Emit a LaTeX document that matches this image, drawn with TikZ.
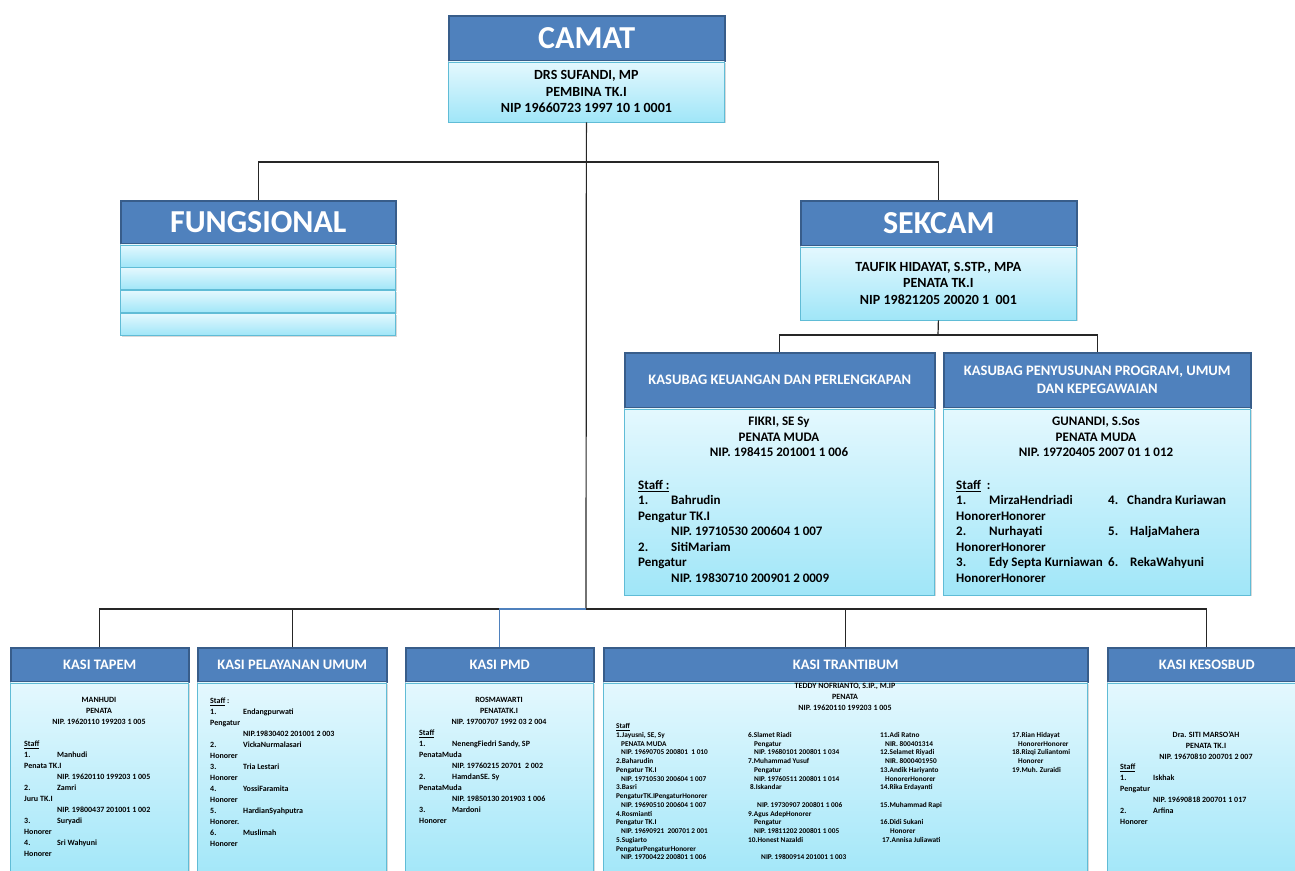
\documentclass[tikz,border=0pt]{standalone}
\usepackage{fontspec}
\setmainfont{Carlito}
\usetikzlibrary{shadows}

\definecolor{headblue}{RGB}{79,129,189}
\definecolor{headedge}{RGB}{56,93,138}
\definecolor{bodytop}{RGB}{228,248,254}
\definecolor{bodybot}{RGB}{160,230,248}
\definecolor{bodyedge}{RGB}{96,188,214}

\newcommand{\staffno}[1]{\makebox[33pt][l]{#1}}
\newcommand{\nipin}{\hspace*{33pt}}

\begin{document}
\begin{tikzpicture}[x=1pt,y=-1pt,
    headbox/.style={draw=headedge, line width=1.5pt, fill=headblue, text=white, anchor=north west, inner sep=0pt},
    bodybox/.style={draw=bodyedge, line width=0.8pt, top color=bodytop, bottom color=bodybot, anchor=north west, inner sep=0pt,
        drop shadow={shadow xshift=1.5pt, shadow yshift=-1.5pt, opacity=0.3}},
    bigtitle/.style={font=\fontsize{32}{36}\selectfont\bfseries},
    subtitle/.style={font=\fontsize{14.5}{18}\selectfont\bfseries},
    toptext/.style={font=\fontsize{14}{16.5}\selectfont\bfseries},
    midtext/.style={font=\fontsize{13}{15.5}\selectfont\bfseries, inner sep=0pt},
    smalltext/.style={font=\fontsize{8}{11}\selectfont\bfseries, inner sep=0pt},
    tinytext/.style={font=\fontsize{7.3}{8.75}\selectfont\bfseries, inner sep=0pt, align=left, anchor=north west},
    conn/.style={line width=1.2pt, draw=black!85}
]
    \useasboundingbox (0,0) rectangle (1295,870);

    % Camat
    \node[headbox, bigtitle, minimum width=276, minimum height=45] (camat) at (448,15) {CAMAT};
    \node[bodybox, toptext, align=center, minimum width=276, minimum height=60] (camatbody) at (camat.south west)
        {DRS SUFANDI, MP\\PEMBINA TK.I\\NIP 19660723 1997 10 1 0001};

    % Fungsional
    \node[headbox, bigtitle, minimum width=275, minimum height=43] (fung) at (120,200) {FUNGSIONAL};
    \node[bodybox, minimum width=275, minimum height=22] (fungrowa) at (fung.south west) {};
    \node[bodybox, minimum width=275, minimum height=22] (fungrowb) at (fungrowa.south west) {};
    \node[bodybox, minimum width=275, minimum height=22] (fungrowc) at (fungrowb.south west) {};
    \node[bodybox, minimum width=275, minimum height=22] (fungrowd) at (fungrowc.south west) {};

    % Sekcam
    \node[headbox, bigtitle, minimum width=276, minimum height=45] (sekcam) at (800,200) {SEKCAM};
    \node[bodybox, toptext, align=center, minimum width=276, minimum height=73] (sekcambody) at (sekcam.south west)
        {TAUFIK HIDAYAT, S.STP., MPA\\PENATA TK.I\\NIP 19821205 20020 1\ \ 001};

    % Kasubag keuangan
    \node[headbox, subtitle, minimum width=310, minimum height=55] (keuangan) at (624,352) {KASUBAG KEUANGAN DAN PERLENGKAPAN};
    \node[bodybox, minimum width=310, minimum height=186] (keuanganbody) at (keuangan.south west) {};
    \node[midtext, align=center, anchor=north] (keuanganhead) at (779,417)
        {FIKRI, SE Sy\\PENATA MUDA\\NIP. 198415 201001 1 006};
    \node[midtext, align=left, anchor=north west] (keuanganstaff) at (638,480)
        {\underline{Staff :}\\
         \staffno{1.}Bahrudin\\
         Pengatur TK.I\\
         \nipin NIP. 19710530 200604 1 007\\
         \staffno{2.}SitiMariam\\
         Pengatur\\
         \nipin NIP. 19830710 200901 2 0009};

    % Kasubag penyusunan program
    \node[headbox, subtitle, align=center, minimum width=307, minimum height=55] (penyusunan) at (943,352)
        {KASUBAG PENYUSUNAN PROGRAM, UMUM\\DAN KEPEGAWAIAN};
    \node[bodybox, minimum width=307, minimum height=186] (penyusunanbody) at (penyusunan.south west) {};
    \node[midtext, align=center, anchor=north] (penyusunanhead) at (1096,417)
        {GUNANDI, S.Sos\\PENATA MUDA\\NIP. 19720405 2007 01 1 012};
    \node[midtext, align=left, anchor=north west] (penyusunanstaff) at (956,480)
        {\underline{Staff}\ \ :\\
         \staffno{1.}MirzaHendriadi\\
         HonorerHonorer\\
         \staffno{2.}Nurhayati\\
         HonorerHonorer\\
         \staffno{3.}Edy Septa Kurniawan\\
         HonorerHonorer};
    \node[midtext, font=\fontsize{13}{31}\selectfont\bfseries, align=left, anchor=north west] (penyusunanstafftwo) at (1108,495)
        {\makebox[19pt][l]{4.}Chandra Kuriawan\\
         \makebox[22pt][l]{5.}HaljaMahera\\
         \makebox[22pt][l]{6.}RekaWahyuni};

    % Kasi tapem
    \node[headbox, subtitle, minimum width=178, minimum height=34] (tapem) at (10,647) {KASI TAPEM};
    \node[bodybox, minimum width=178, minimum height=200] (tapembody) at (tapem.south west) {};
    \node[smalltext, align=center, anchor=north] (tapemhead) at (99,697)
        {MANHUDI\\PENATA\\NIP. 19620110 199203 1 005};
    \node[smalltext, align=left, anchor=north west] (tapemstaff) at (24,741)
        {\underline{Staff}\\
         \staffno{1.}Manhudi\\
         Penata TK.I\\
         \nipin NIP. 19620110 199203 1 005\\
         \staffno{2.}Zamri\\
         Juru TK.I\\
         \nipin NIP. 19800437 201001 1 002\\
         \staffno{3.}Suryadi\\
         Honorer\\
         \staffno{4.}Sri Wahyuni\\
         Honorer};

    % Kasi pelayanan umum
    \node[headbox, subtitle, minimum width=189, minimum height=34] (pelayanan) at (197,647) {KASI PELAYANAN UMUM};
    \node[bodybox, minimum width=189, minimum height=200] (pelayananbody) at (pelayanan.south west) {};
    \node[smalltext, align=left, anchor=north west] (pelayananstaff) at (210,698)
        {\underline{Staff} :\\
         \staffno{1.}Endangpurwati\\
         Pengatur\\
         \nipin NIP.19830402 201001 2 003\\
         \staffno{2.}VickaNurmalasari\\
         Honorer\\
         \staffno{3.}Tria Lestari\\
         Honorer\\
         \staffno{4.}YossiFaramita\\
         Honorer\\
         \staffno{5.}HardianSyahputra\\
         Honorer.\\
         \staffno{6.}Muslimah\\
         Honorer};

    % Kasi PMD
    \node[headbox, subtitle, minimum width=188, minimum height=34] (pmd) at (405,647) {KASI PMD};
    \node[bodybox, minimum width=188, minimum height=200] (pmdbody) at (pmd.south west) {};
    \node[smalltext, align=center, anchor=north] (pmdhead) at (499,697)
        {ROSMAWARTI\\PENATATK.I\\NIP. 19700707 1992 03 2 004};
    \node[smalltext, align=left, anchor=north west] (pmdstaff) at (419,730)
        {\underline{Staff}\\
         \staffno{1.}NenengFiedri Sandy, SP\\
         PenataMuda\\
         \nipin NIP. 19760215 20701\ \ 2 002\\
         \staffno{2.}HamdanSE. Sy\\
         PenataMuda\\
         \nipin NIP. 19850130 201903 1 006\\
         \staffno{3.}Mardoni\\
         Honorer};

    % Kasi trantibum
    \node[headbox, subtitle, minimum width=484, minimum height=34] (trantibum) at (603,647) {KASI TRANTIBUM};
    \node[bodybox, minimum width=484, minimum height=200] (trantibumbody) at (trantibum.south west) {};
    \node[smalltext, align=center, anchor=north] (trantibumhead) at (845,683)
        {TEDDY NOFRIANTO, S.IP., M.IP\\PENATA\\NIP. 19620110 199203 1 005};
    \node[tinytext] (tranteama) at (616,723.3)
        {\underline{Staff}\\
         1.Jayusni, SE, Sy\\
         \hspace*{5pt}PENATA MUDA\\
         \hspace*{5pt}NIP. 19690705 200801\ \ 1 010\\
         2.Baharudin\\
         Pengatur TK.I\\
         \hspace*{5pt}NIP. 19710530 200604 1 007\\
         3.Basri\\
         PengaturTK.IPengaturHonorer\\
         \hspace*{5pt}NIP. 19690510 200604 1 007\\
         4.Rosmianti\\
         Pengatur TK.I\\
         \hspace*{5pt}NIP. 19690921\ \ 200701 2 001\\
         5.Sugiarto\\
         PengaturPengaturHonorer\\
         \hspace*{5pt}NIP. 19700422 200801 1 006};
    \node[tinytext] (tranteamb) at (748,732)
        {6.Slamet Riadi\\
         \hspace*{6pt}Pengatur\\
         \hspace*{6pt}NIP. 19680101 200801 1 034\\
         7.Muhammad Yusuf\\
         \hspace*{6pt}Pengatur\\
         \hspace*{6pt}NIP. 19760511 200801 1 014\\
         \hspace*{2pt}8.Iskandar\\
         \mbox{}\\
         \hspace*{9pt}NIP. 19730907 200801 1 006\\
         9.Agus AdepHonorer\\
         \hspace*{6pt}Pengatur\\
         \hspace*{6pt}NIP. 19811202 200801 1 005\\
         10.Honest Nazaldi\\
         \mbox{}\\
         \hspace*{13pt}NIP. 19800914 201001 1 003};
    \node[tinytext] (tranteamc) at (880,732)
        {11.Adi Ratno\\
         \hspace*{5pt}NIR. 800401314\\
         12.Selamet Riyadi\\
         \hspace*{5pt}NIR. 8000401950\\
         13.Andik Hariyanto\\
         \hspace*{5pt}HonorerHonorer\\
         14.Rika Erdayanti\\
         \mbox{}\\
         15.Muhammad Rapi\\
         \mbox{}\\
         16.Didi Sukani\\
         \hspace*{10pt}Honorer\\
         \hspace*{2pt}17.Annisa Juliawati};
    \node[tinytext] (tranteamd) at (1012,732)
        {17.Rian Hidayat\\
         \hspace*{6pt}HonorerHonorer\\
         18.Rizqi Zuliantomi\\
         \hspace*{6pt}Honorer\\
         19.Muh. Zuraidi};

    % Kasi kesosbud
    \node[headbox, subtitle, minimum width=198, minimum height=34] (kesosbud) at (1107,647) {KASI KESOSBUD};
    \node[bodybox, minimum width=198, minimum height=200] (kesosbudbody) at (kesosbud.south west) {};
    \node[smalltext, align=center, anchor=north] (kesosbudhead) at (1206,731)
        {Dra. SITI MARSO'AH\\PENATA TK.I\\NIP. 19670810 200701 2 007};
    \node[smalltext, align=left, anchor=north west] (kesosbudstaff) at (1120,764)
        {\underline{Staff}\\
         \staffno{1.}Iskhak\\
         Pengatur\\
         \nipin NIP. 19690818 200701 1 017\\
         \staffno{2.}Arfina\\
         Honorer};

    % Connectors
    \coordinate (topjoin) at (586,162);
    \coordinate (sekjoin) at (938,335);
    \coordinate (botjoin) at (586,609);
    \draw[conn] (camatbody.south) -- (botjoin);
    \draw[conn] (fung.north) |- (topjoin) -| (sekcam.north);
    \draw[conn] (sekcambody.south) -- (sekjoin);
    \draw[conn] (keuangan.north) |- (sekjoin) -| (penyusunan.north);
    \draw[conn] (tapem.north) |- (botjoin) -| (kesosbud.north);
    \draw[conn] (pelayanan.north) -- (pelayanan.north |- botjoin);
    \draw[conn] (trantibum.north) -- (trantibum.north |- botjoin);
    \draw[conn, draw=headblue] (pmd.north) |- (botjoin);
\end{tikzpicture}
\end{document}
